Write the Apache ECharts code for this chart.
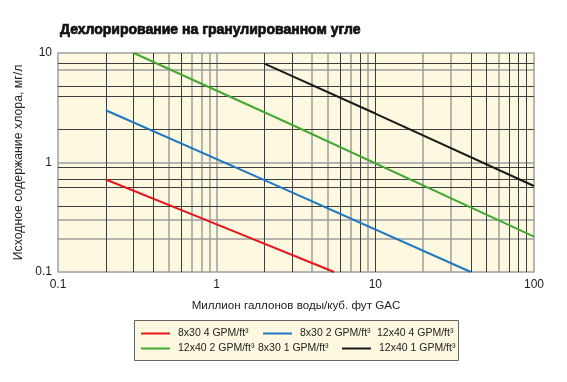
<!DOCTYPE html>
<html><head><meta charset="utf-8">
<script src="https://cdn.jsdelivr.net/npm/echarts@6/dist/echarts.min.js"></script>
<style>html,body{margin:0;padding:0;background:#fff}#c{width:567px;height:382px}</style>
</head><body><div id="c"></div>
<script>
// Series (x: million gal/ft3 GAC, y: initial chlorine mg/L)
const red_8x30_4   = [[0.2, 0.7], [0.8, 0.31], [5.5, 0.1]];
const blue_8x30_2  = [[0.2, 3.0], [2, 0.69], [40, 0.1]];
const green_12x40_2 = [[0.3, 10], [3, 2.2], [100, 0.21]];
const black_12x40_1 = [[2, 8], [10, 2.8], [100, 0.61]];
const seriesNames = ['8x30 4 GPM/ft³', '8x30 2 GPM/ft³', '12x40 4 GPM/ft³', '12x40 2 GPM/ft³', '8x30 1 GPM/ft³', '12x40 1 GPM/ft³'];
const xTicks = [0.1, 1, 10, 100];
const yTicks = [0.1, 1, 10];
// grid lines as drawn in the original
const vDark = [0.2, 0.3, 0.4, 0.6, 2, 3, 6, 8, 10, 40, 50, 70, 80, 90];
const vGray = [0.5, 0.7, 0.8, 0.9, 1, 4, 5, 7, 9, 20, 30, 60];
const hDark = [8, 5, 4, 2, 0.9, 0.7, 0.6, 0.4];
const hGray = [7, 1, 0.3, 0.2];

const DARK = '#3d3d3d', GRAY = '#9c9c9c';
const mk = (arr, axis, color, w) => arr.map(v => ({[axis]: v, lineStyle: {color: color, width: w, type: 'solid'}}));

const chart = echarts.init(document.getElementById('c'));
const FONT = 'Liberation Sans';
function leg(name, left, top, iw) {
  return {data: [name], left: left, top: top, padding: 0, itemWidth: iw, itemHeight: 2,
    icon: 'rect', selectedMode: false,
    textStyle: {fontFamily: FONT, fontSize: 10.5, color: '#222', padding: [0, 0, 0, iw ? 3 : 0]}};
}
const lineS = (name, data, color) => ({
  name: name, type: 'line', data: data, symbol: 'none', z: 5,
  lineStyle: {color: color, width: 2}, itemStyle: {color: color}
});
chart.setOption({
  animation: false,
  backgroundColor: '#fff',
  title: {text: 'Дехлорирование на гранулированном угле', left: 55, top: 18,
    textStyle: {fontFamily: FONT, fontWeight: 'bold', fontSize: 14, color: '#111',
      textBorderColor: '#111', textBorderWidth: 0.7}},
  grid: {left: 58, right: 33, top: 53, bottom: 110, show: true,
    backgroundColor: '#fdf9e1', borderColor: '#a0a0a0', borderWidth: 1.5},
  xAxis: {type: 'log', logBase: 10, min: xTicks[0], max: xTicks[xTicks.length - 1],
    name: 'Миллион галлонов воды/куб. фут GAC', nameLocation: 'middle', nameGap: 28,
    nameTextStyle: {fontFamily: FONT, fontSize: 11.6, color: '#222'},
    axisLine: {show: false}, axisTick: {show: false}, splitLine: {show: false},
    axisLabel: {fontFamily: FONT, fontSize: 12, color: '#222', margin: 7,
      formatter: v => xTicks.includes(+v) ? String(+v) : ''}},
  yAxis: {type: 'log', logBase: 10, min: yTicks[0], max: yTicks[yTicks.length - 1],
    name: 'Исходное содержание хлора, мг/л', nameLocation: 'middle', nameGap: 23,
    nameTextStyle: {fontFamily: FONT, fontSize: 12.3, color: '#222'},
    axisLine: {show: false}, axisTick: {show: false}, splitLine: {show: false},
    axisLabel: {fontFamily: FONT, fontSize: 12, color: '#222', margin: 6,
      formatter: v => yTicks.includes(+v) ? String(+v) : ''}},
  legend: [
    leg(seriesNames[0], 141, 328, 29),
    leg(seriesNames[1], 263, 328, 29),
    leg(seriesNames[2], 372, 328, 0),
    leg(seriesNames[3], 141, 343, 29),
    leg(seriesNames[4], 253, 343, 0),
    leg(seriesNames[5], 342, 343, 29)
  ],
  graphic: [{type: 'rect', left: 134, top: 320, z: -1, silent: true,
    shape: {width: 324, height: 40}, style: {fill: '#fdf9e1', stroke: '#666', lineWidth: 1}}],
  series: [
    {name: 'grid', type: 'line', data: [], z: 1, silent: true,
      markLine: {silent: true, symbol: 'none', label: {show: false}, animation: false,
        data: [].concat(mk(vGray, 'xAxis', GRAY, 1.5), mk(hGray, 'yAxis', GRAY, 1.5),
                        mk(vDark, 'xAxis', DARK, 1), mk(hDark, 'yAxis', DARK, 1))}},
    lineS(seriesNames[0], red_8x30_4, '#e8141c'),
    lineS(seriesNames[1], blue_8x30_2, '#1f77c4'),
    lineS(seriesNames[2], [], 'rgba(0,0,0,0)'),
    lineS(seriesNames[3], green_12x40_2, '#45a832'),
    lineS(seriesNames[4], [], 'rgba(0,0,0,0)'),
    lineS(seriesNames[5], black_12x40_1, '#1a1a1a')
  ]
});
</script></body></html>
